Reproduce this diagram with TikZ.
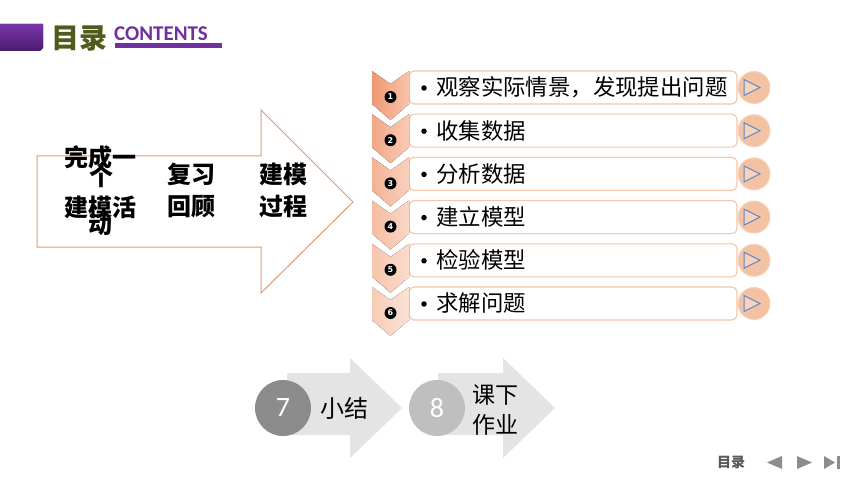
\documentclass[tikz,border=0pt]{standalone}
\usepackage{fontspec}
\newfontfamily\cjk{Noto Sans CJK SC}
\newfontfamily\carl{Carlito}
\newfontfamily\dejavu{DejaVu Sans}
\definecolor{purpA}{HTML}{7A35AD}
\definecolor{purpB}{HTML}{4A1C6C}
\definecolor{purp}{HTML}{7030A0}
\definecolor{olive}{HTML}{4F5A1C}
\definecolor{arrowor}{HTML}{E39A6B}
\definecolor{boxline}{HTML}{F6C6A8}
\definecolor{btnfill}{HTML}{F3C2A3}
\definecolor{btnline}{HTML}{F7D3BD}
\definecolor{tribl}{HTML}{5F88C4}
\definecolor{gArrow}{HTML}{E4E4E4}
\definecolor{gDark}{HTML}{8C8C8C}
\definecolor{gLight}{HTML}{BFBFBF}
\definecolor{navg}{HTML}{8C8C8C}
\definecolor{navt}{HTML}{595959}
\definecolor{chLa}{HTML}{EF9872}\definecolor{chRa}{HTML}{F8C4AB}
\definecolor{chLb}{HTML}{F2A787}\definecolor{chRb}{HTML}{F9CBB4}
\definecolor{chLc}{HTML}{F3B294}\definecolor{chRc}{HTML}{F9D1BD}
\definecolor{chLd}{HTML}{F5BDA1}\definecolor{chRd}{HTML}{FAD7C6}
\definecolor{chLe}{HTML}{F6C5AC}\definecolor{chRe}{HTML}{FBDCCD}
\definecolor{chLf}{HTML}{F7CDB6}\definecolor{chRf}{HTML}{FBE2D5}
\tikzset{
  bigtxt/.style={inner sep=0, font=\cjk\bfseries\fontsize{24}{24}\selectfont, text=black},
  rowtxt/.style={inner sep=0, anchor=west, font=\cjk\fontsize{22.4}{22.4}\selectfont, text=black},
  bulletdot/.style={circle, fill=black, inner sep=0, minimum size=5.5pt},
  rowbox/.style={draw=boxline, line width=1.1pt, fill=white, rounded corners=5pt},
  numc/.style={circle, fill=black, inner sep=0, minimum size=12pt, text=white, font=\dejavu\bfseries\fontsize{8}{8}\selectfont},
  btn/.style={circle, fill=btnfill, draw=btnline, line width=1pt, minimum size=32pt, inner sep=0},
  btntri/.style={draw=tribl, fill=btnline, line width=1pt, line join=miter},
  gcirc/.style={circle, minimum size=56pt, inner sep=0, text=white, font=\carl\fontsize{28}{28}\selectfont},
  bottxt/.style={inner sep=0, font=\cjk\fontsize{24}{24}\selectfont, text=black},
  navtri/.style={fill=navg},
}
\begin{document}
\begin{tikzpicture}[x=1pt,y=-1pt]
\useasboundingbox (0,0) rectangle (860,484);
\fill[white] (0,0) rectangle (860,484);
% header
\fill[top color=purpA, bottom color=purpB] (0,24) -- (43,24) -- (43,48) -- (40,51) -- (0,51) -- cycle;
\node[inner sep=0, anchor=west, text=olive, font=\cjk\bfseries\fontsize{28}{28}\selectfont] (mulu) at (51,38) {目录};
\node[inner sep=0, anchor=south west, text=purp, font=\carl\bfseries\fontsize{21}{21}\selectfont] (cont) at (114,40.5) {CONTENTS};
\fill[purp] (115,43) rectangle (222,48);
% big arrow
\draw[draw=arrowor, line width=1pt, fill=white, line join=miter] (37,156) -- (261,156) -- (261,110) -- (353,202) -- (261,293) -- (261,247) -- (37,247) -- cycle;
\node[bigtxt] (a2) at (101,176) {个};
\node[bigtxt] (a1) at (100,157) {完成一};
\node[bigtxt] (a4) at (100,225) {动};
\node[bigtxt] (a3) at (100,207) {建模活};
\node[bigtxt] (b1) at (191,174) {复习};
\node[bigtxt] (b2) at (191,207) {回顾};
\node[bigtxt] (c1) at (283,174) {建模};
\node[bigtxt] (c2) at (283,207) {过程};
% list rows
\foreach \i/\L/\R/\j/\txt in {0/chLa/chRa/1/观察实际情景，发现提出问题, 1/chLb/chRb/2/收集数据, 2/chLc/chRc/3/分析数据, 3/chLd/chRd/4/建立模型, 4/chLe/chRe/5/检验模型, 5/chLf/chRf/6/求解问题}{
  \pgfmathsetmacro\t{71+43.2*\i}
  \draw[rowbox] (409,\t) rectangle (737,\t+33);
  \fill[left color=\L, right color=\R] (372,\t) -- (390.5,\t+13) -- (409,\t) -- (409,\t+33) -- (390.5,\t+49) -- (372,\t+33) -- cycle;
  \node[numc] (n\j) at (390.5,\t+26) {\j};
  \node[bulletdot] (d\j) at (424,\t+17) {};
  \node[rowtxt] (r\j) at (436,\t+16.5) {\txt};
  \node[btn] (k\j) at (754,\t+16.5) {};
  \draw[btntri] (744,\t+8.5) -- (760,\t+16.5) -- (744,\t+24.5) -- cycle;
}
% bottom arrows
\fill[gArrow] (287,373) -- (350,373) -- (350,358) -- (402,408) -- (350,458) -- (350,435) -- (287,435) -- cycle;
\fill[gArrow] (438,373) -- (503,373) -- (503,358) -- (555,408) -- (503,458) -- (503,435) -- (438,435) -- cycle;
\node[gcirc, fill=gDark] (c7) at (283,408) {7};
\node[gcirc, fill=gLight] (c8) at (437,408) {8};
\node[bottxt] (xj) at (344,408) {小结};
\node[bottxt, font=\cjk\fontsize{23}{23}\selectfont] (kx) at (495,395) {课下};
\node[bottxt, font=\cjk\fontsize{23}{23}\selectfont] (zy) at (495,425) {作业};
% nav
\node[inner sep=0, text=navt, font=\cjk\bfseries\fontsize{14}{14}\selectfont] (nav) at (731,462.5) {目录};
\fill[navtri] (782,456) -- (767,462.5) -- (782,469) -- cycle;
\fill[navtri] (797,456) -- (812,462.5) -- (797,469) -- cycle;
\fill[navtri] (824,456) -- (835,462.5) -- (824,469) -- cycle;
\fill[navtri] (837,456) rectangle (840,469);
\end{tikzpicture}
\end{document}
